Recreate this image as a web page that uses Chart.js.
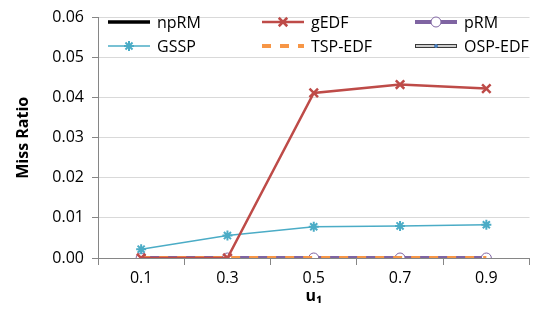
<!DOCTYPE html>
<html>
<head>
<meta charset="utf-8">
<script src="https://cdn.jsdelivr.net/npm/chart.js@4"></script>
<style>
  html, body { margin: 0; padding: 0; background: #fff; }
  #wrap { width: 538px; height: 320px; }
</style>
</head>
<body>
<div id="wrap"><canvas id="missChart" width="538" height="320"></canvas></div>
<script>
const categories = ["0.1", "0.3", "0.5", "0.7", "0.9"];
const npRM = [0, 0, 0, 0, 0];
const gEDF = [0, 0, 0.0412, 0.0433, 0.0423];
const pRM = [0, 0, 0, 0, 0];
const GSSP = [0.0022, 0.0056, 0.0078, 0.0080, 0.0083];
const TSP_EDF = [0, 0, 0, 0, 0];
const OSP_EDF = [0, 0, 0, 0, 0];

const FONT = "'Open Sans', 'Liberation Sans', sans-serif";
const ctx = document.getElementById("missChart").getContext("2d");

// Excel-style legend: line sample with marker, 3 columns x 2 rows
const legendPlugin = {
  id: "excelLegend",
  afterDraw(chart) {
    const c = chart.ctx;
    const cols = [108, 262, 415];
    const rows = [22, 46];
    chart.data.datasets.forEach((ds, i) => {
      const x0 = cols[i % 3], y = rows[Math.floor(i / 3)];
      const x1 = x0 + 42;
      c.save();
      c.strokeStyle = ds.borderColor;
      c.lineWidth = ds.label === "OSP-EDF" ? 4 : ds.borderWidth;
      c.setLineDash(ds.borderDash || []);
      c.beginPath(); c.moveTo(x0, y); c.lineTo(x1, y); c.stroke();
      if (ds.label === "OSP-EDF") {
        c.strokeStyle = "#fff"; c.lineWidth = 1.5;
        c.beginPath(); c.moveTo(x0 + 1, y); c.lineTo(x1 - 1, y); c.stroke();
      }
      c.setLineDash([]);
      const xm = (x0 + x1) / 2;
      if (ds.pointRadius > 0) {
        c.fillStyle = ds.pointBackgroundColor;
        c.strokeStyle = ds.pointBorderColor;
        c.lineWidth = ds.pointBorderWidth || 1;
        Chart.helpers.drawPoint(c, {
          pointStyle: ds.pointStyle, radius: ds.pointRadius, rotation: 0,
          borderWidth: ds.pointBorderWidth || 1
        }, xm, y);
      }
      c.fillStyle = "#000";
      c.font = "16px " + FONT;
      c.textBaseline = "middle";
      c.fillText(ds.label, x1 + 7, y + 1);
      c.restore();
    });
  }
};

new Chart(ctx, {
  type: "line",
  data: {
    labels: categories,
    datasets: [
      {
        label: "npRM", data: npRM, borderColor: "#000000", borderWidth: 3.5,
        pointRadius: 0, order: 5
      },
      {
        label: "gEDF", data: gEDF, borderColor: "#be4b48", borderWidth: 2.5,
        pointStyle: "crossRot", pointRadius: 6, pointBorderWidth: 2.5,
        pointBorderColor: "#be4b48", pointBackgroundColor: "#be4b48", order: 1
      },
      {
        label: "pRM", data: pRM, borderColor: "#7f64a2", borderWidth: 4,
        pointStyle: "circle", pointRadius: 5, pointBorderWidth: 1,
        pointBorderColor: "#7f64a2", pointBackgroundColor: "#ffffff", order: 4
      },
      {
        label: "GSSP", data: GSSP, borderColor: "#4bacc6", borderWidth: 1.5,
        pointStyle: "star", pointRadius: 5, pointBorderWidth: 2,
        pointBorderColor: "#4bacc6", pointBackgroundColor: "#4bacc6", order: 2
      },
      {
        label: "TSP-EDF", data: TSP_EDF, borderColor: "#f79646", borderWidth: 4,
        borderDash: [9, 9], pointRadius: 0, order: 3
      },
      {
        label: "OSP-EDF", data: OSP_EDF, borderColor: "#3a3a3a", borderWidth: 1,
        pointStyle: "circle", pointRadius: 1.5, pointBorderWidth: 1,
        pointBorderColor: "#4f81bd", pointBackgroundColor: "#4f81bd", order: 6
      }
    ]
  },
  plugins: [legendPlugin],
  options: {
    responsive: false,
    animation: false,
    layout: { padding: { top: 6, right: 8, left: 10, bottom: 6 } },
    plugins: {
      legend: { display: false },
      tooltip: { enabled: false }
    },
    scales: {
      x: {
        offset: true,
        grid: {
          offset: true, drawOnChartArea: false, drawTicks: true,
          tickLength: 7, color: "#868686"
        },
        border: { color: "#868686" },
        ticks: { color: "#000", font: { family: FONT, size: 16 }, padding: 4 },
        title: {
          display: true, text: "u\u2081", color: "#000",
          font: { family: FONT, size: 16, weight: "bold" }, padding: { top: 0, bottom: 8 }
        },
        afterFit(scale) { scale.height = 56; }
      },
      y: {
        min: 0, max: 0.06,
        grid: { color: "#d9d9d9", tickLength: 6, tickColor: "#868686" },
        border: { color: "#868686" },
        ticks: {
          stepSize: 0.01, color: "#000", padding: 8,
          font: { family: FONT, size: 16 },
          callback: v => v.toFixed(2)
        },
        title: {
          display: true, text: "Miss Ratio", color: "#000",
          font: { family: FONT, size: 16, weight: "bold" }, padding: { bottom: 0 }
        },
        afterFit(scale) { scale.width = 88; }
      }
    }
  }
});
</script>
</body>
</html>
